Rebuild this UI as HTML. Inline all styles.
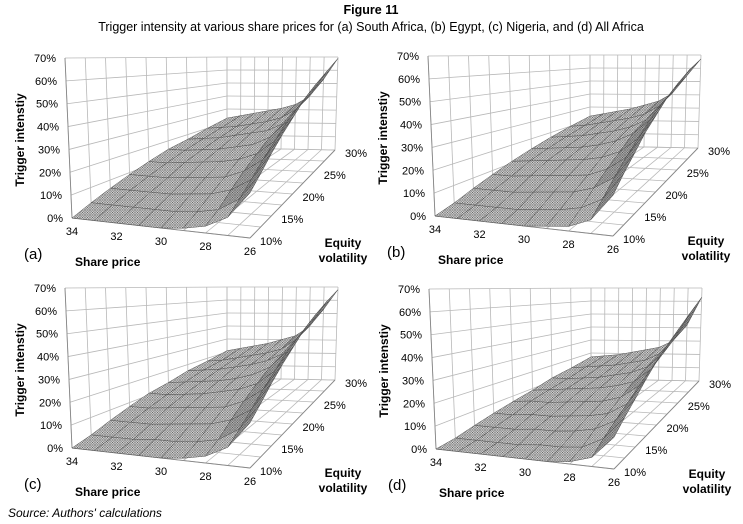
<!DOCTYPE html>
<html><head><meta charset="utf-8"><style>
html,body{margin:0;padding:0;background:#fff;}
svg{display:block;font-family:"Liberation Sans",sans-serif;}
</style></head><body>
<svg id="fig" width="743" height="524" viewBox="0 0 743 524" xmlns="http://www.w3.org/2000/svg">
<defs>
<pattern id="mesh" width="2.5" height="2.5" patternUnits="userSpaceOnUse">
<rect width="2.5" height="2.5" fill="#cccccc"/>
<path d="M0,0L2.5,2.5M2.5,0L0,2.5" stroke="#505050" stroke-width="0.4"/>
</pattern>
</defs>
<text x="371" y="14" text-anchor="middle" font-size="12.5" font-weight="bold">Figure 11</text>
<text x="371" y="31" text-anchor="middle" font-size="12.5">Trigger intensity at various share prices for (a) South Africa, (b) Egypt, (c) Nigeria, and (d) All Africa</text>
<text x="8" y="517" font-size="12" font-style="italic">Source: Authors' calculations</text>
</svg>
<script>
const sharePrices=[34,33,32,31,30,29,28,27,26];
const vols=[10,12.5,15,17.5,20,22.5,25,27.5,30];
const zTickLabels=[0,10,20,30,40,50,60,70];
const shareTickLabels=[34,32,30,28,26];
const volTickLabels=[10,15,20,25,30];
const panelLetters=['(a)','(b)','(c)','(d)'];
// rows = vols (10% -> 30%), cols = share price 34 -> 26, values in %
const intensityA=[
[0,0,0,0,0,1,3,8,20],
[3,3,3,3,3,4,6,12,25],
[6,6,6,6,7,8,11,17,31],
[9,9,9,10,11,12,16,23,37],
[12,12,13,14,15,17,21,29,43],
[15,15,16,17,19,21,26,36,50],
[17,18,19,21,23,25,30,42,56],
[20,21,22,24,26,29,35,47,62],
[23,25,27,29,31,34,40,53,69]];
const intensityB=[
[0,0,0,0,0,1,2,6,18],
[2,2,2,2,3,4,6,11,24],
[5,5,5,6,7,8,11,17,30],
[8,8,9,10,11,12,16,23,37],
[11,12,13,14,15,17,21,29,43],
[14,15,16,17,19,22,27,36,50],
[17,18,19,21,23,26,31,42,56],
[20,21,23,25,27,30,36,48,62],
[23,25,27,29,32,35,41,54,67]];
const intensityC=[
[0,0,0,0,0,1,3,8,20],
[2,2,2,3,3,4,6,12,25],
[5,5,5,6,7,8,11,17,31],
[8,8,9,10,11,12,16,23,37],
[11,11,12,13,15,17,21,29,43],
[13,14,15,16,18,21,26,36,50],
[16,17,18,20,22,25,30,42,56],
[18,19,21,23,25,28,35,47,62],
[21,23,25,27,30,33,40,53,68]];
const intensityD=[
[0,0,0,0,0,0,1,4,14],
[1,1,1,1,2,2,3,8,19],
[3,3,3,4,4,5,7,12,24],
[5,5,6,6,7,8,10,16,30],
[7,8,8,9,10,11,14,21,36],
[9,10,11,12,13,15,18,26,42],
[12,12,13,14,16,18,22,31,48],
[14,15,16,17,19,21,26,37,55],
[17,18,19,21,23,25,30,42,63]];
const panelData=[intensityA,intensityB,intensityC,intensityD];
const offsets=[[0,0],[363,-2],[0,230],[364,231]];

const NS='http://www.w3.org/2000/svg';
const svg=document.getElementById('fig');
const FL=[72,218],FR=[250,238],BR=[335,150],BL=[227,148];
const HT={fl:160,fr:158,br:93,bl:91};
const LEAN={fl:-7,fr:0,br:3,bl:0};
function bil(a,b,c,d,s,v){return (1-s)*(1-v)*a+s*(1-v)*b+s*v*c+(1-s)*v*d;}
function proj(off,share,vol,z){
  const s=(34-share)/8,v=(vol-10)/20,t=z/70;
  const x=bil(FL[0],FR[0],BR[0],BL[0],s,v)+t*bil(LEAN.fl,LEAN.fr,LEAN.br,LEAN.bl,s,v);
  const y=bil(FL[1],FR[1],BR[1],BL[1],s,v)-t*bil(HT.fl,HT.fr,HT.br,HT.bl,s,v);
  return [x+off[0],y+off[1]];
}
function mk(tag,attrs,parent){const e=document.createElementNS(NS,tag);for(const k in attrs)e.setAttribute(k,attrs[k]);(parent||svg).appendChild(e);return e;}
function line(g,a,b,col,w){const l=mk('line',{x1:a[0],y1:a[1],x2:b[0],y2:b[1],stroke:col,'stroke-width':w},g);

return l;}
function txt(g,x,y,str,anchor,size,extra){const t=mk('text',Object.assign({x:x,y:y,'text-anchor':anchor,'font-size':size},extra||{}),g);t.textContent=str;return t;}

panelData.forEach((data,pi)=>{
  const off=offsets[pi];
  const g=mk('g',{});
  
  
  const gc='#b8b8b8';
  zTickLabels.forEach(z=>line(g,proj(off,34,10,z),proj(off,34,30,z),gc,0.8));
  vols.forEach(v=>line(g,proj(off,34,v,0),proj(off,34,v,70),gc,0.8));
  zTickLabels.forEach(z=>line(g,proj(off,34,30,z),proj(off,26,30,z),gc,0.8));
  sharePrices.forEach(s=>line(g,proj(off,s,30,0),proj(off,s,30,70),gc,0.8));
  sharePrices.forEach(s=>line(g,proj(off,s,10,0),proj(off,s,30,0),gc,0.8));
  vols.forEach(v=>line(g,proj(off,34,v,0),proj(off,26,v,0),gc,0.8));
  line(g,proj(off,34,10,0),proj(off,34,10,70),'#888',0.9);
  line(g,proj(off,34,10,0),proj(off,26,10,0),'#888',0.9);
  line(g,proj(off,26,10,0),proj(off,26,30,0),'#888',0.9);
  const sg=mk('g',{},g);
  
  
  for(let vi=vols.length-2;vi>=0;vi--){
    for(let si=0;si<sharePrices.length-1;si++){
      const p1=proj(off,sharePrices[si],vols[vi],data[vi][si]);
      const p2=proj(off,sharePrices[si+1],vols[vi],data[vi][si+1]);
      const p3=proj(off,sharePrices[si+1],vols[vi+1],data[vi+1][si+1]);
      const p4=proj(off,sharePrices[si],vols[vi+1],data[vi+1][si]);
      const slope=Math.abs(data[vi][si+1]-data[vi][si])+Math.abs(data[vi+1][si]-data[vi][si]);
      const cell=mk('polygon',{points:[p1,p2,p3,p4].map(p=>p.join(',')).join(' '),fill:'url(#mesh)',stroke:'#555','stroke-width':0.5},sg);
      
      
      if(slope>10){const sh=mk('polygon',{points:[p1,p2,p3,p4].map(p=>p.join(',')).join(' '),fill:'#222','fill-opacity':Math.min(0.4,slope/60),stroke:'none'},sg);
        
        }
    }
  }
  zTickLabels.forEach(z=>{const p=proj(off,34,10,z);const t=txt(g,p[0]-9,p[1]+4,z+'%','end',11);
    
    });
  shareTickLabels.forEach(s=>{const p=proj(off,s,10,0);const t=txt(g,p[0],p[1]+17,String(s),'middle',11);
    
    });
  volTickLabels.forEach(v=>{const p=proj(off,26,v,0);const t=txt(g,p[0]+10,p[1]+7,v+'%','start',11);
    
    });
  const yt=txt(g,0,0,'Trigger intenstiy','middle',12,{'font-weight':'bold',transform:'translate('+(24+off[0])+','+(140+off[1])+') rotate(-90)'});
  
  
  const xt=txt(g,75+off[0],266+off[1],'Share price','start',12,{'font-weight':'bold'});
  
  
  const v1=txt(g,343+off[0],247+off[1],'Equity','middle',12,{'font-weight':'bold'});
  
  
  const v2=txt(g,343+off[0],262+off[1],'volatility','middle',12,{'font-weight':'bold'});
  
  
  const pl=txt(g,24+off[0],259+off[1],panelLetters[pi],'start',15);
  
  
});
</script>
</body></html>
